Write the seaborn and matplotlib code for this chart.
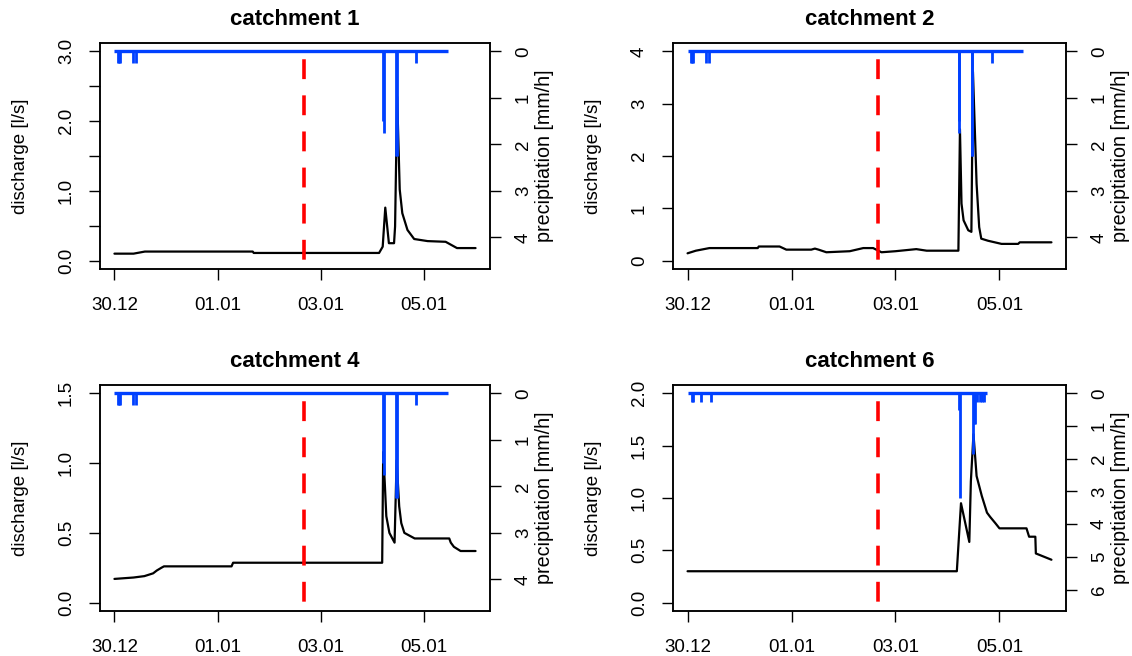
import numpy as np
import pandas as pd
import matplotlib
matplotlib.use("Agg")
import matplotlib.pyplot as plt
import matplotlib.transforms as mtransforms
import seaborn as sns

# ---- time axis: days since 30.12 00:00 ----
tick_days = [0, 2, 4, 6]
tick_labels = ["30.12", "01.01", "03.01", "05.01"]
event_day = 3.67          # vertical marker (red dashed)

# ---- discharge series [l/s] ----
c1_t = [0.0, 0.37, 0.59, 2.68, 2.70, 5.13, 5.20, 5.25, 5.32, 5.42, 5.44, 5.48,
        5.53, 5.58, 5.68, 5.81, 6.07, 6.42, 6.64, 7.0]
c1_q = [0.10, 0.10, 0.13, 0.13, 0.11, 0.11, 0.20, 0.76, 0.25, 0.25, 0.49, 2.35,
        1.02, 0.68, 0.44, 0.31, 0.28, 0.27, 0.18, 0.18]

c2_t = [0.0, 0.16, 0.42, 1.35, 1.37, 1.77, 1.90, 2.38, 2.45, 2.52, 2.67, 3.12,
        3.38, 3.57, 3.73, 4.0, 4.4, 4.6, 5.21, 5.24, 5.27, 5.31, 5.40, 5.46,
        5.49, 5.56, 5.61, 5.65, 5.78, 6.04, 6.36, 6.39, 7.0]
c2_q = [0.14, 0.19, 0.24, 0.24, 0.27, 0.27, 0.21, 0.21, 0.23, 0.21, 0.16, 0.18,
        0.24, 0.24, 0.16, 0.18, 0.22, 0.19, 0.19, 2.51, 1.09, 0.77, 0.58, 0.55,
        3.61, 1.47, 0.64, 0.42, 0.38, 0.32, 0.32, 0.35, 0.35]

c4_t = [0.0, 0.37, 0.58, 0.75, 0.82, 0.91, 0.96, 2.27, 2.30, 5.19, 5.21, 5.24,
        5.27, 5.33, 5.43, 5.47, 5.52, 5.56, 5.62, 5.82, 6.49, 6.52, 6.58, 6.71, 7.0]
c4_q = [0.17, 0.18, 0.19, 0.21, 0.23, 0.25, 0.26, 0.26, 0.286, 0.286, 1.08, 0.86,
        0.62, 0.50, 0.43, 1.02, 0.69, 0.57, 0.50, 0.46, 0.46, 0.43, 0.40, 0.37, 0.37]

c6_t = [0.0, 5.18, 5.26, 5.42, 5.45, 5.50, 5.56, 5.66, 5.76, 5.82, 5.92, 6.0,
        6.52, 6.57, 6.69, 6.70, 7.0]
c6_q = [0.30, 0.30, 0.95, 0.58, 1.16, 1.61, 1.21, 1.02, 0.86, 0.82, 0.76, 0.71,
        0.71, 0.63, 0.63, 0.47, 0.41]

# ---- precipitation [mm/h] ----
gaugeA_t = [0.06, 0.08, 0.10, 0.35, 0.42, 5.215, 5.225, 5.465, 5.475, 5.85]
gaugeA_p = [0.25, 0.25, 0.25, 0.25, 0.25, 1.50, 1.75, 2.25, 2.25, 0.25]
gaugeA_end = 6.46

gaugeB_t = [0.09, 0.11, 0.26, 0.45, 5.22, 5.235, 5.49, 5.51, 5.52,
            5.57, 5.62, 5.66, 5.71]
gaugeB_p = [0.25, 0.25, 0.25, 0.25, 0.50, 3.20, 1.85, 0.93, 0.93,
            0.25, 0.25, 0.25, 0.25]
gaugeB_end = 5.76

panels = [
    dict(title="catchment 1", t=c1_t, q=c1_q, qmax=3.0, qstep=0.5,
         qlabels={0: "0.0", 2: "1.0", 4: "2.0", 6: "3.0"},
         rt=gaugeA_t, rp=gaugeA_p, rend=gaugeA_end, pmax=4.5, pticks=5),
    dict(title="catchment 2", t=c2_t, q=c2_q, qmax=4.0, qstep=1.0,
         qlabels=None, rt=gaugeA_t, rp=gaugeA_p, rend=gaugeA_end,
         pmax=4.5, pticks=5),
    dict(title="catchment 4", t=c4_t, q=c4_q, qmax=1.5, qstep=0.5,
         qlabels=None, rt=gaugeA_t, rp=gaugeA_p, rend=gaugeA_end,
         pmax=4.5, pticks=5),
    dict(title="catchment 6", t=c6_t, q=c6_q, qmax=2.0, qstep=0.5,
         qlabels=None, rt=gaugeB_t, rp=gaugeB_p, rend=gaugeB_end,
         pmax=6.4, pticks=7),
]

sns.set_style("ticks")
plt.rcParams["font.family"] = ["Liberation Sans", "DejaVu Sans"]
plt.rcParams["axes.linewidth"] = 1.1
for key in ("text.color", "axes.labelcolor", "xtick.color", "ytick.color",
            "axes.edgecolor", "axes.titlecolor"):
    plt.rcParams[key] = "black"

W, H = 1132, 656
fig = plt.figure(figsize=(W / 100, H / 100), dpi=100)

boxes = [(100, 43, 390, 226), (673, 43, 393, 226),
         (100, 385, 390, 226), (673, 385, 393, 226)]

BLUE = "#0040ff"
FS = 13.5

for p, (bx, by, bw, bh) in zip(panels, boxes):
    ax = fig.add_axes([bx / W, 1 - (by + bh) / H, bw / W, bh / H])
    df = pd.DataFrame({"day": p["t"], "discharge": p["q"]})
    sns.lineplot(data=df, x="day", y="discharge", ax=ax, color="black",
                 lw=1.6, estimator=None, sort=False)

    ax.set_xlim(-0.28, 7.28)
    qmax = p["qmax"]
    ax.set_ylim(-0.04 * qmax, 1.04 * qmax)
    qt = np.arange(0, qmax + 1e-9, p["qstep"])
    ax.set_yticks(qt)
    if p["qlabels"] is not None:
        ax.set_yticklabels([p["qlabels"].get(i, "") for i in range(len(qt))])
    elif p["qstep"] < 1:
        ax.set_yticklabels([f"{v:.1f}" for v in qt])
    else:
        ax.set_yticklabels([f"{v:.0f}" for v in qt])
    ax.set_xticks(tick_days)
    ax.set_xticklabels(tick_labels)
    ax.tick_params(axis="both", direction="out", length=8, width=1,
                   labelsize=FS, colors="black")
    ax.tick_params(axis="y", labelrotation=90, pad=10)
    ax.tick_params(axis="x", pad=12)
    for lab in ax.get_yticklabels():
        lab.set_verticalalignment("center")
    ax.set_xlabel("")
    ax.set_ylabel("discharge [l/s]", fontsize=FS)
    ax.yaxis.label.set_verticalalignment("center")
    ax.yaxis.set_label_coords(-79 / bw, 0.5)
    ax.set_title(p["title"], fontsize=16, fontweight="bold", pad=13)

    ax2 = ax.twinx()
    pmax = p["pmax"]
    ax2.set_ylim(1.04 * pmax, -0.04 * pmax)
    ax2.hlines(0, 0, p["rend"], color=BLUE, lw=2.4)
    ax2.vlines(p["rt"], 0, p["rp"], color=BLUE, lw=2.0)
    ax2.set_yticks(range(p["pticks"]))
    ax2.tick_params(axis="y", direction="out", length=8, width=1,
                    labelsize=FS, labelrotation=90, pad=10, colors="black")
    for lab in ax2.get_yticklabels():
        lab.set_verticalalignment("center")
    ax2.set_ylabel("preciptiation [mm/h]", fontsize=14.2)
    ax2.yaxis.label.set_verticalalignment("center")
    ax2.yaxis.set_label_coords(1 + 54 / bw, 0.5)

    # dashed marker over the full height of the plot box
    trans = mtransforms.blended_transform_factory(ax2.transData, ax2.transAxes)
    ax2.plot([event_day, event_day], [1.0, 0.0], transform=trans,
             color="red", lw=2.6, linestyle=(5.5, (5.5, 4.5)),
             solid_capstyle="butt", dash_capstyle="butt", clip_on=True)
    ax2.set_xlim(-0.28, 7.28)
    for s in ax2.spines.values():
        s.set_linewidth(1.1)
        s.set_color("black")

fig.savefig("out.png", dpi=100)
